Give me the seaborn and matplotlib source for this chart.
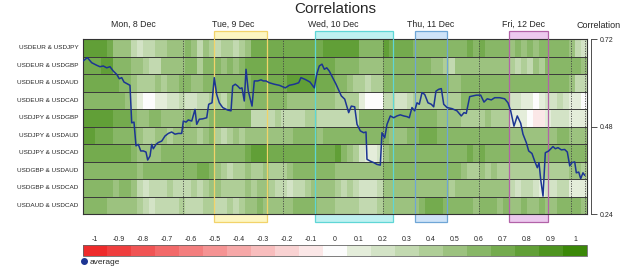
import numpy as np
import pandas as pd
import matplotlib
matplotlib.use("Agg")
import matplotlib.pyplot as plt
import matplotlib.transforms as mtransforms
import seaborn as sns
from matplotlib.colors import ListedColormap
from matplotlib.patches import Rectangle
from matplotlib.lines import Line2D


pairs = ["USDEUR & USDJPY", "USDEUR & USDGBP", "USDEUR & USDAUD", "USDEUR & USDCAD",
         "USDJPY & USDGBP", "USDJPY & USDAUD", "USDJPY & USDCAD", "USDGBP & USDAUD",
         "USDGBP & USDCAD", "USDAUD & USDCAD"]

# correlation per time slot (84 slots Mon-Fri), one char per slot: digit = tenths, 'a' = -0.1
corr_rows = [
    "8888755 5323344 5556535 4344345 7777777 7777788 8888666 6877776 6666666 6767666 6565656 6666532",
    "7778866 6554335 5556646 6656567 7777777 7777777 6666555 5666666 6655435 5555555 5434354 6666665",
    "7777776 6544454 5566556 6666666 7777778 8888777 6654434 4666666 6666655 6666666 6666666 6666533",
    "6666666 5310011 2232233 4435556 6666665 5555555 4444100 0332234 4444444 6666666 6221101 2232110",
    "8888877 7655665 5556555 6666666 3333433 3344333 3333666 6666666 6665555 4444544 41110aa 1222111",
    "8877766 6654455 4555545 6434545 5555555 6666566 6666666 6655566 7776666 6666666 6555555 5566555",
    "7777777 7655556 6666666 6666667 8887777 7777777 8654211 2566666 6666666 6767666 6666666 6666666",
    "6666666 6656666 6666677 6543445 4454445 6666666 5555555 5666666 6666666 5445454 4444444 4444554",
    "6666656 6532333 4333434 5544445 4554332 3345555 4343222 3555555 5555545 5555555 5323321 2233111",
    "6666555 5543233 3343334 4334345 5655555 6666555 4444333 4555555 6777666 6656665 6556556 5566665",
]

# average correlation line (time slot, value)
avg_slot = [0.05, 0.72, 1.45, 2.28, 2.83, 3.38, 3.95, 4.5, 5.05, 5.62,
            6.05, 6.45, 6.83, 7.28, 7.83, 8.12, 8.5, 8.83, 9.22, 9.62,
            10.05, 10.5, 10.78, 11.17, 11.45, 11.72, 12.17, 12.55, 13.12, 13.67,
            14.22, 14.78, 15.33, 15.88, 16.45, 16.72, 17.17, 17.55, 18.12, 18.67,
            18.95, 19.38, 19.95, 20.62, 20.95, 21.5, 21.88, 22.28, 22.72, 23.28,
            24.12, 24.67, 24.95, 25.38, 25.78, 26.17, 26.5, 26.88, 27.17, 27.55,
            28.17, 28.55, 29.12, 29.67, 30.05, 30.5, 31.05, 31.88, 32.72, 33.72,
            34.38, 35.22, 35.95, 36.33, 37.05, 37.83, 38.55, 38.95, 39.38, 39.83,
            40.22, 40.62, 41.05, 41.62, 42.17,
            43.05, 43.62, 44.28, 44.72, 45.28, 45.67, 46.22, 46.78, 47.17, 47.33,
            47.88, 48.45, 49.0, 49.55, 49.83, 50.28, 50.67, 51.22, 51.78, 52.33,
            52.88, 53.45, 54.0, 54.38, 54.83, 55.28, 55.67, 56.05, 56.5, 56.95,
            57.5, 58.05, 58.45, 58.83, 59.28, 59.72, 60.12, 60.67, 61.5, 62.33,
            63.05, 63.5, 63.88, 64.45, 65.0, 65.55, 66.28, 66.83, 67.38, 68.05,
            68.62, 69.45, 70.28, 70.83, 71.28, 71.83, 72.38, 72.95, 73.33, 73.88,
            74.28, 74.83, 75.28, 75.72, 76.0, 76.28, 76.67, 77.05, 77.62, 78.33,
            78.72, 79.17, 79.72, 80.28, 80.72, 81.12, 81.5, 81.95, 82.22, 82.62,
            82.95, 83.33, 83.62]
avg_corr = [0.660, 0.669, 0.655, 0.648, 0.644, 0.646, 0.641, 0.644, 0.632, 0.623,
            0.611, 0.614, 0.602, 0.598, 0.593, 0.490, 0.492, 0.427, 0.431, 0.413,
            0.413, 0.410, 0.388, 0.399, 0.431, 0.419, 0.431, 0.436, 0.440, 0.454,
            0.461, 0.465, 0.459, 0.461, 0.461, 0.495, 0.492, 0.498, 0.495, 0.527,
            0.486, 0.500, 0.501, 0.504, 0.541, 0.545, 0.614, 0.568, 0.545, 0.532,
            0.525, 0.523, 0.591, 0.596, 0.591, 0.584, 0.586, 0.550, 0.637, 0.577,
            0.536, 0.605, 0.605, 0.608, 0.605, 0.605, 0.600, 0.596, 0.593, 0.586,
            0.593, 0.596, 0.600, 0.614, 0.609, 0.602, 0.586, 0.623, 0.646, 0.651,
            0.637, 0.641, 0.632, 0.614, 0.596,
            0.564, 0.555, 0.518, 0.536, 0.534, 0.486, 0.468, 0.463, 0.465, 0.390,
            0.385, 0.381, 0.376, 0.374, 0.463, 0.449, 0.486, 0.509, 0.504, 0.509,
            0.512, 0.509, 0.507, 0.504, 0.532, 0.523, 0.545, 0.541, 0.573, 0.568,
            0.545, 0.541, 0.534, 0.577, 0.582, 0.584, 0.541, 0.532, 0.529, 0.523,
            0.509, 0.518, 0.516, 0.562, 0.564, 0.566, 0.566, 0.547, 0.556, 0.553,
            0.559, 0.559, 0.556, 0.545, 0.523, 0.481, 0.509, 0.489, 0.459, 0.436,
            0.413, 0.406, 0.385, 0.367, 0.381, 0.335, 0.289, 0.408, 0.413, 0.425,
            0.419, 0.422, 0.416, 0.417, 0.410, 0.372, 0.381, 0.383, 0.353, 0.355,
            0.337, 0.353, 0.346]

days = ["Mon, 8 Dec", "Tue, 9 Dec", "Wed, 10 Dec", "Thu, 11 Dec", "Fri, 12 Dec"]
day_mid = [8.33, 25.0, 41.67, 58.0, 73.5]
day_sep = [16.67, 33.33, 50.0, 65.95, 81.28, 83.6]

# trading sessions: start, end, edge colour, fill colour
sessions = [(21.83, 30.67, "#f2d36a", "#fdf6c2"),
            (38.67, 51.67, "#5fd6d6", "#bff1f1"),
            (55.33, 60.67, "#6fa6d6", "#cfe3f8"),
            (71.0, 77.5, "#b262a8", "#ecc9ee")]

cbar_ticks = [-1, -0.9, -0.8, -0.7, -0.6, -0.5, -0.4, -0.3, -0.2, -0.1, 0,
              0.1, 0.2, 0.3, 0.4, 0.5, 0.6, 0.7, 0.8, 0.9, 1]
cbar_labels = ["-1", "-0.9", "-0.8", "-0.7", "-0.6", "-0.5", "-0.4", "-0.3", "-0.2", "-0.1", "0",
               "0.1", "0.2", "0.3", "0.4", "0.5", "0.6", "0.7", "0.8", "0.9", "1"]

palette = ["#ee2b2b", "#ef3f3f", "#f05454", "#f26969", "#f37e7e", "#f59393", "#f6a8a8",
           "#f8bdbd", "#f9d2d2", "#fbe7e7", "#fcfcfc", "#e4edda", "#d3e3c6", "#c2d9b0",
           "#afce97", "#9cc27f", "#88b767", "#74ab4e", "#619f37", "#4e9420", "#3b8808"]
cmap = ListedColormap(palette)

levels = {str(d): d / 10 for d in range(10)}
levels.update({"a": -0.1, "b": -0.2})
grid = [[levels[c] for c in row.replace(" ", "")] for row in corr_rows]
for i, r in enumerate(grid):
    assert len(r) == 84, (i, len(r))
assert len(avg_slot) == len(avg_corr), (len(avg_slot), len(avg_corr))
df = pd.DataFrame(np.array(grid), index=pairs)

sns.set_style("white")
plt.rcParams["font.family"] = ["Liberation Sans", "DejaVu Sans"]

fig = plt.figure(figsize=(6.25, 2.67), dpi=100)
ax = fig.add_axes([0.1328, 0.1985, 0.8064, 0.6554])

sns.heatmap(df, ax=ax, cmap=cmap, vmin=-1.05, vmax=1.05, cbar=False,
            xticklabels=False, yticklabels=True)
ax.tick_params(axis="y", length=0, pad=3.5, labelsize=4.6, labelrotation=0)
ax.set_xlabel("")
ax.set_ylabel("")
for y in range(1, len(pairs)):
    ax.axhline(y, color="#3a3a3a", lw=0.7, zorder=2)
for s in ax.spines.values():
    s.set_visible(True)
    s.set_color("#333333")
    s.set_linewidth(0.8)

trans = mtransforms.blended_transform_factory(ax.transData, ax.transAxes)
for x0, x1, edge, fill in sessions:
    ax.add_patch(Rectangle((x0, -0.046), x1 - x0, 1.092, transform=trans, facecolor=fill,
                           edgecolor=edge, lw=0.9, clip_on=False, zorder=0))
    for xx in (x0, x1):
        ax.axvline(xx, color=edge, lw=0.9, zorder=3)

for xx in day_sep:
    ax.axvline(xx, color="#444444", lw=0.6, ls=(0, (1.5, 1.5)), zorder=3)

for m, d in zip(day_mid, days):
    ax.text(m, 1.086, d, transform=trans, ha="center", va="center", fontsize=6.3)

ax2 = ax.twinx()
sns.lineplot(x=avg_slot, y=avg_corr, ax=ax2, color="#1c3593", lw=1.1,
             estimator=None, sort=False)
ax2.set_xlim(0, 84)
ax2.set_ylim(0.24, 0.72)
ax2.set_yticks([0.24, 0.48, 0.72])
ax2.set_yticklabels(["0.24", "0.48", "0.72"])
for side in ["top", "left", "bottom"]:
    ax2.spines[side].set_visible(False)
ax2.spines["right"].set_visible(True)
ax2.spines["right"].set_position(("outward", 3))
ax2.spines["right"].set_color("#333333")
ax2.spines["right"].set_linewidth(0.6)
ax2.tick_params(axis="y", length=4, width=0.6, labelsize=5, pad=2, color="#333333", right=True)
ax2.set_ylabel("")

fig.text(0.536, 0.968, "Correlations", ha="center", va="center", fontsize=11)
fig.text(0.958, 0.905, "Correlation", ha="center", va="center", fontsize=6.5)

cax = fig.add_axes([0.1328, 0.0412, 0.8064, 0.0412])
cb = fig.colorbar(ax.collections[0], cax=cax, orientation="horizontal")
cb.set_ticks(cbar_ticks)
cb.set_ticklabels(cbar_labels)
cax.xaxis.set_ticks_position("top")
cax.tick_params(length=0, labelsize=5, pad=1.5)
cb.outline.set_edgecolor("#666666")
cb.outline.set_linewidth(0.6)

handle = Line2D([], [], marker="o", ls="", color="#1c3593", markersize=4)
fig.legend([handle], ["average"], loc="center left", bbox_to_anchor=(0.128, 0.02),
           frameon=False, fontsize=6, handletextpad=0.2, borderaxespad=0, borderpad=0,
           handlelength=1)

fig.savefig("out.png", dpi=100)
